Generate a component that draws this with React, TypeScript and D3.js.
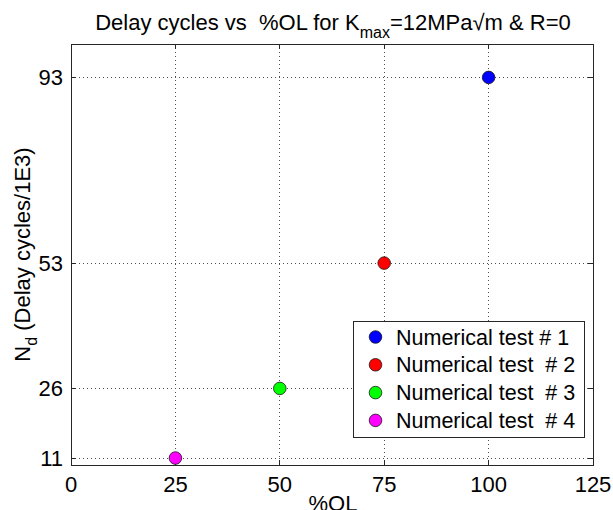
import React from "react";
import * as d3 from "d3";

// Delay cycles per numerical test
const testNames = ["Numerical test # 1", "Numerical test  # 2", "Numerical test  # 3", "Numerical test  # 4"];
const overloadPct = [100, 75, 50, 25];
const delayCycles = [93, 53, 26, 11];
const markerColors = ["#0000ff", "#ff0000", "#00ff00", "#ff00ff"];

const xTicks = [0, 25, 50, 75, 100, 125];
const yTicks = [11, 26, 53, 93];

const W = 613;
const H = 510;
const plot = { left: 71, right: 593, top: 44, bottom: 465 };
const FONT = "'Liberation Sans', Arial, Helvetica, sans-serif";

export default function App() {
  const x = d3.scaleLinear().domain([0, 125]).range([plot.left, plot.right]);
  const y = d3.scaleLinear().domain([9.5, 100.2]).range([plot.bottom, plot.top]);
  const axisColor = "#262626";
  const gridColor = "#505050";
  const tickLen = 5;

  const legend = { x: 353, y: 321, w: 231, h: 116 };

  return (
    <svg
      width={W}
      height={H}
      style={{ position: "absolute", left: 0, top: 0, background: "#fff" }}
      fontFamily={FONT}
    >
      <rect x={0} y={0} width={W} height={H} fill="#fff" />

      {/* grid */}
      <g stroke={gridColor} strokeWidth={1} strokeDasharray="1,3" shapeRendering="crispEdges">
        {xTicks.slice(1, -1).map((t) => (
          <line key={"gx" + t} x1={x(t)} x2={x(t)} y1={plot.top} y2={plot.bottom} />
        ))}
        {yTicks.map((t) => (
          <line key={"gy" + t} x1={plot.left} x2={plot.right} y1={y(t)} y2={y(t)} />
        ))}
      </g>

      {/* ticks on all four sides */}
      <g stroke={axisColor} strokeWidth={1} shapeRendering="crispEdges">
        {xTicks.map((t) => (
          <g key={"tx" + t}>
            <line x1={x(t)} x2={x(t)} y1={plot.bottom} y2={plot.bottom - tickLen} />
            <line x1={x(t)} x2={x(t)} y1={plot.top} y2={plot.top + tickLen} />
          </g>
        ))}
        {yTicks.map((t) => (
          <g key={"ty" + t}>
            <line x1={plot.left} x2={plot.left + tickLen} y1={y(t)} y2={y(t)} />
            <line x1={plot.right} x2={plot.right - tickLen} y1={y(t)} y2={y(t)} />
          </g>
        ))}
      </g>

      {/* axes box */}
      <rect
        x={plot.left}
        y={plot.top}
        width={plot.right - plot.left}
        height={plot.bottom - plot.top}
        fill="none"
        stroke={axisColor}
        strokeWidth={1}
        shapeRendering="crispEdges"
      />

      {/* tick labels */}
      <g fontSize={22} fill="#000">
        {xTicks.map((t) => (
          <text key={"lx" + t} x={x(t)} y={plot.bottom + 27} textAnchor="middle">
            {t}
          </text>
        ))}
        {yTicks.map((t) => (
          <text key={"ly" + t} x={plot.left - 8} y={y(t) + 8} textAnchor="end">
            {t}
          </text>
        ))}
      </g>

      {/* data points */}
      {overloadPct.map((v, i) => (
        <circle
          key={"pt" + i}
          cx={x(v)}
          cy={y(delayCycles[i])}
          r={6.3}
          fill={markerColors[i]}
          stroke="#1a1a1a"
          strokeWidth={0.8}
        />
      ))}

      {/* title */}
      <text x={333} y={30} textAnchor="middle" fontSize={22} fill="#000" style={{ whiteSpace: "pre" }}>
        <tspan>{"Delay cycles vs  %OL for K"}</tspan>
        <tspan fontSize={16} dy={8}>max</tspan>
        <tspan dy={-8}>{"=12MPa\u221Am & R=0"}</tspan>
      </text>

      {/* axis labels */}
      <text x={333} y={511} textAnchor="middle" fontSize={22} fill="#000">
        %OL
      </text>
      <text
        transform={`translate(30, ${(plot.top + plot.bottom) / 2}) rotate(-90)`}
        textAnchor="middle"
        fontSize={22}
        fill="#000"
      >
        <tspan>N</tspan>
        <tspan fontSize={16} dy={7}>d</tspan>
        <tspan dy={-7}>{" (Delay cycles/1E3)"}</tspan>
      </text>

      {/* legend */}
      <g>
        <rect
          x={legend.x}
          y={legend.y}
          width={legend.w}
          height={legend.h}
          fill="#fff"
          stroke={axisColor}
          strokeWidth={1}
          shapeRendering="crispEdges"
        />
        {testNames.map((name, i) => {
          const cy = legend.y + 16 + i * 27.8;
          return (
            <g key={"lg" + i}>
              <circle cx={legend.x + 22.5} cy={cy} r={6.3} fill={markerColors[i]} stroke="#1a1a1a" strokeWidth={0.8} />
              <text x={legend.x + 43} y={cy + 7.5} fontSize={21.5} fill="#000" style={{ whiteSpace: "pre" }}>
                {name}
              </text>
            </g>
          );
        })}
      </g>
    </svg>
  );
}
